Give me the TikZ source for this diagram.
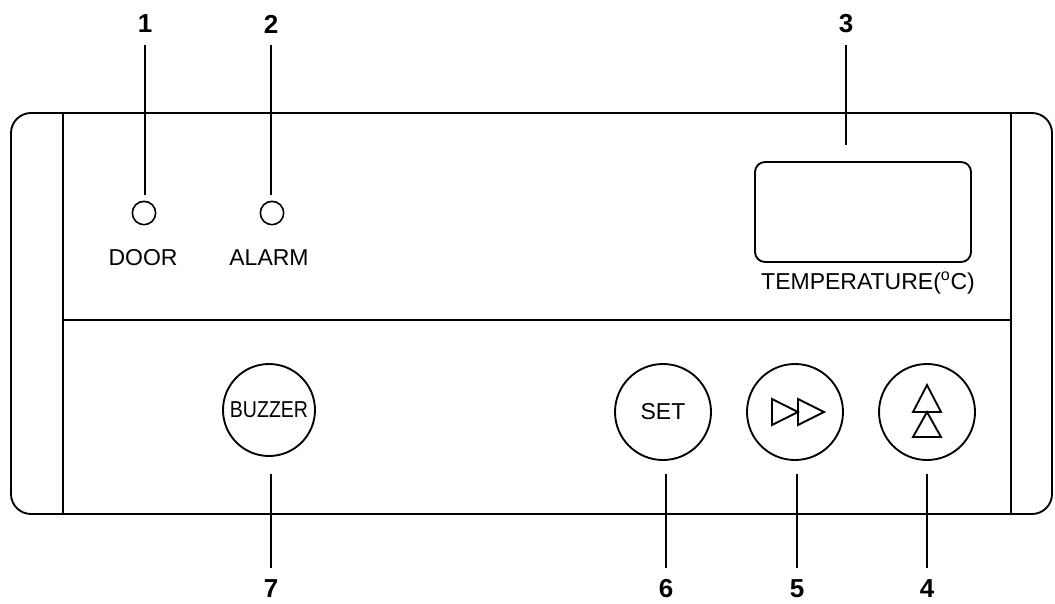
\documentclass[tikz,border=0pt]{standalone}
\usepackage{fontspec}
\setmainfont{Liberation Sans}
\begin{document}
\begin{tikzpicture}[x=0.75pt,y=-0.75pt,
  frame/.style={draw=black,line width=1.4pt},
  txt/.style={inner sep=0pt,font=\fontsize{17.25}{20}\selectfont},
  num/.style={inner sep=0pt,font=\fontsize{19.5}{22}\selectfont\bfseries},
  lead/.style={draw=black,line width=1.4pt},
  led/.style={circle,draw=black,line width=1.2pt,minimum size=17.5pt,inner sep=0pt},
  btn/.style={circle,draw=black,line width=1.4pt,minimum size=72pt,inner sep=0pt,font=\fontsize{17.25}{20}\selectfont},
  tri/.style={draw=black,line width=1.4pt,line join=miter}]
\useasboundingbox (0,0) rectangle (1055,603);
% housing
\draw[frame,rounded corners=15pt] (11,113) rectangle (1052,514);
\coordinate (lt) at (63,113); \coordinate (lb) at (63,514);
\coordinate (rt) at (1011,113); \coordinate (rb) at (1011,514);
\coordinate (ml) at (63,320); \coordinate (mr) at (1011,320);
\draw[frame] (lt) -- (lb);
\draw[frame] (rt) -- (rb);
\draw[frame] (ml) -- (mr);
% LEDs
\node[led] (door) at (144,213) {};
\node[led] (alarm) at (272,213) {};
\node[txt] (doort) at (143,258) {DOOR};
\node[txt] (alarmt) at (269,258) {ALARM};
% display
\node[draw=black,line width=1.4pt,rounded corners=7.5pt,minimum width=162pt,minimum height=75pt,inner sep=0pt] (disp) at (863,212) {};
\node[txt] (tempt) at (868,283) {TEMPERATURE(\textsuperscript{o}C)};
% buttons
\node[btn,minimum size=69pt] (buzz) at (269,410) {\scalebox{0.85}[1]{BUZZER}};
\node[btn] (set) at (663,412) {SET};
\node[btn] (ff) at (795,412) {};
\node[btn] (up) at (927,412) {};
% fast-forward triangles
\draw[tri] ([shift={(-23,-13)}]ff.center) -- ([shift={(-23,13)}]ff.center) -- ([shift={(3,0)}]ff.center) -- cycle;
\draw[tri] ([shift={(3,-13)}]ff.center) -- ([shift={(3,13)}]ff.center) -- ([shift={(29,0)}]ff.center) -- cycle;
% up triangles
\draw[tri] ([shift={(0,-27)}]up.center) -- ([shift={(-14,0)}]up.center) -- ([shift={(14,0)}]up.center) -- cycle;
\draw[tri] ([shift={(0,0)}]up.center) -- ([shift={(-14,25)}]up.center) -- ([shift={(14,25)}]up.center) -- cycle;
% top labels
\node[num] (n1) at (145,24) {1};
\node[num] (n2) at (271,24) {2};
\node[num] (n3) at (846,24) {3};
\coordinate (a1) at (145,45); \coordinate (b1) at (145,195);
\coordinate (a2) at (271,45); \coordinate (b2) at (271,195);
\coordinate (a3) at (846,45); \coordinate (b3) at (846,145);
\draw[lead] (a1) -- (b1);
\draw[lead] (a2) -- (b2);
\draw[lead] (a3) -- (b3);
% bottom labels
\node[num] (n7) at (271,589) {7};
\node[num] (n6) at (666,589) {6};
\node[num] (n5) at (797,589) {5};
\node[num] (n4) at (927,589) {4};
\coordinate (a7) at (271,474); \coordinate (b7) at (271,568);
\coordinate (a6) at (666,474); \coordinate (b6) at (666,568);
\coordinate (a5) at (797,474); \coordinate (b5) at (797,568);
\coordinate (a4) at (927,474); \coordinate (b4) at (927,568);
\draw[lead] (a7) -- (b7);
\draw[lead] (a6) -- (b6);
\draw[lead] (a5) -- (b5);
\draw[lead] (a4) -- (b4);
\end{tikzpicture}
\end{document}
